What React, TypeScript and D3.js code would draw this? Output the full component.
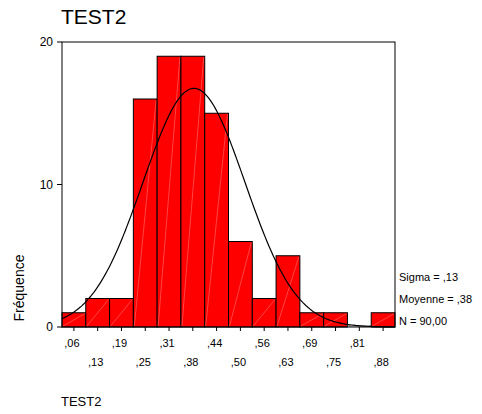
import React from "react";
import * as d3 from "d3";

// bin centres shown on the x axis
const binCenters = [0.0625, 0.125, 0.1875, 0.25, 0.3125, 0.375, 0.4375, 0.5, 0.5625, 0.625, 0.6875, 0.75, 0.8125, 0.875];
const tickLabels = [",06", ",13", ",19", ",25", ",31", ",38", ",44", ",50", ",56", ",63", ",69", ",75", ",81", ",88"];
const counts = [1, 2, 2, 16, 19, 19, 15, 6, 2, 5, 1, 1, 0, 1];
const yTicks = [0, 10, 20];
const statLines = ["Sigma = ,13", "Moyenne = ,38", "N = 90,00"];
// fitted normal curve parameters (unrounded)
const meanVal = 0.378;
const sigmaVal = 0.134;
const nVal = 90;

const W = 482;
const H = 414;
const binW = 0.0625;
const left = 62;
const right = 395;
const top = 42;
const bottom = 327;
const font = "Arial, 'Liberation Sans', sans-serif";

export default function App() {
  const x = d3.scaleLinear().domain([binCenters[0] - binW / 2, binCenters[binCenters.length - 1] + binW / 2]).range([left, right]);
  const y = d3.scaleLinear().domain([0, 20]).range([bottom, top]);

  const curvePts = d3.range(0, 201).map((i) => {
    const [a, b] = x.domain();
    const v = a + ((b - a) * i) / 200;
    const z = (v - meanVal) / sigmaVal;
    const f = (nVal * binW * Math.exp(-0.5 * z * z)) / (sigmaVal * Math.sqrt(2 * Math.PI));
    return [v, f] as [number, number];
  });
  const curve = d3
    .line<[number, number]>()
    .x((d) => x(d[0]))
    .y((d) => y(d[1]))(curvePts);

  return (
    <div style={{ position: "fixed", left: 0, top: 0 }}>
      <svg width={W} height={H} style={{ display: "block", background: "#fff" }} fontFamily={font}>
        <text x={61} y={24} fontSize={21} fill="#000">TEST2</text>

        {counts.map((c, i) => {
          const x0 = x(binCenters[i] - binW / 2);
          const x1 = x(binCenters[i] + binW / 2);
          const y1 = y(c);
          if (c === 0) {
            return <line key={i} x1={x0} x2={x1} y1={bottom - 1} y2={bottom - 1} stroke="#999" />;
          }
          return (
            <g key={i}>
              <rect x={x0} y={y1} width={x1 - x0} height={bottom - y1} fill="#ff0000" stroke="#000" strokeWidth={1} />
              <line x1={x0 + 1} y1={bottom - 1} x2={x1 - 1} y2={y1 + 1} stroke="#ff7070" strokeWidth={0.6} />
            </g>
          );
        })}

        <path d={curve ?? ""} fill="none" stroke="#000" strokeWidth={1.2} />

        <rect x={left} y={top} width={right - left} height={bottom - top} fill="none" stroke="#000" strokeWidth={1} />

        {yTicks.map((t) => (
          <g key={t}>
            <line x1={left - 5} x2={left} y1={y(t)} y2={y(t)} stroke="#000" />
            <text x={left - 9} y={y(t) + 4} fontSize={12} textAnchor="end" fill="#000">{t}</text>
          </g>
        ))}

        {binCenters.map((c, i) => (
          <g key={i}>
            <line x1={x(c)} x2={x(c)} y1={bottom} y2={bottom + 4} stroke="#000" />
            <text x={x(c) - 2} y={i % 2 === 0 ? 347 : 366} fontSize={11} textAnchor="middle" fill="#000">{tickLabels[i]}</text>
          </g>
        ))}

        <text transform="translate(24,288) rotate(-90)" fontSize={14} textAnchor="middle" fill="#000">Fréquence</text>

        {statLines.map((s, i) => (
          <text key={i} x={399} y={281 + i * 22} fontSize={11} fill="#000">{s}</text>
        ))}

        <text x={61} y={406} fontSize={13} fill="#000">TEST2</text>
      </svg>
    </div>
  );
}
